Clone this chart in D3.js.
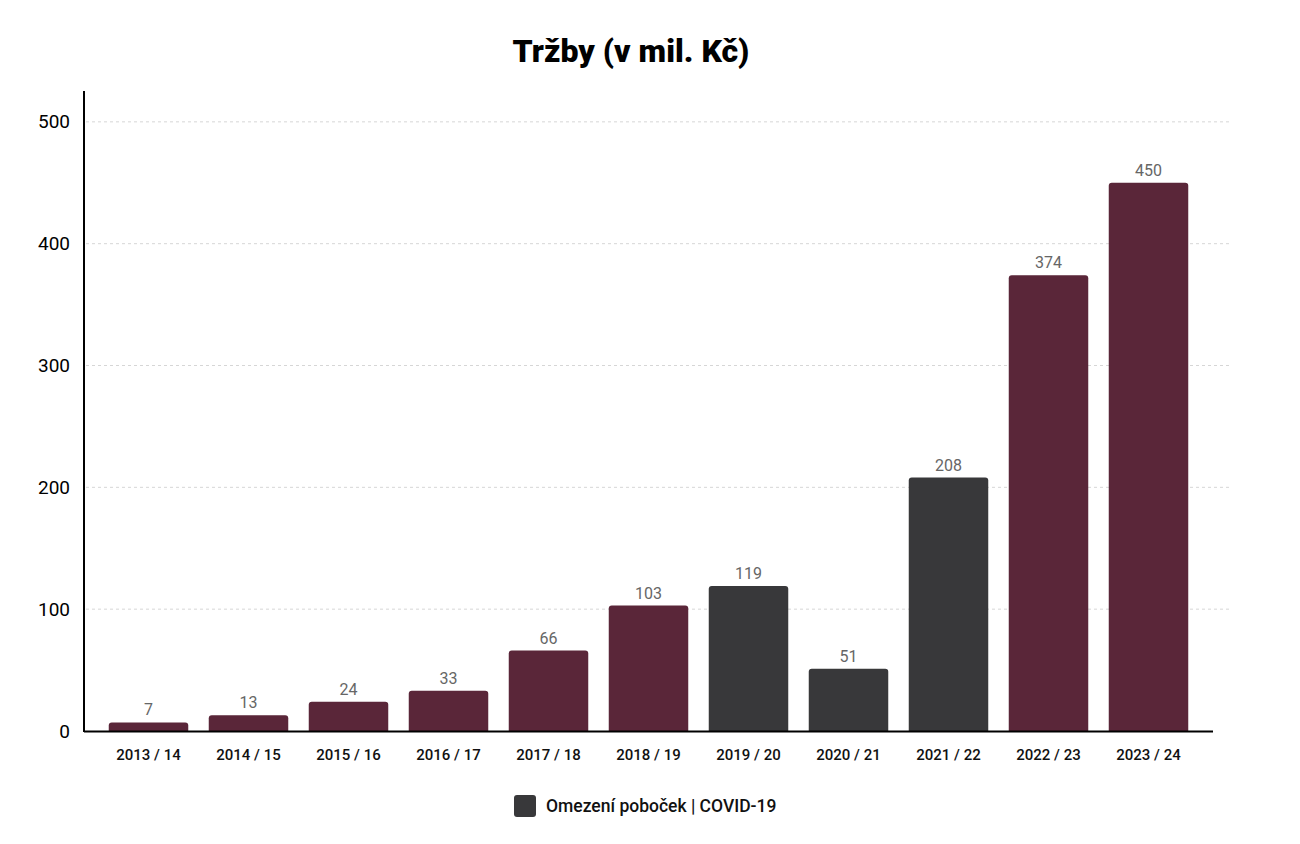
<!DOCTYPE html>
<html>
<head>
<meta charset="utf-8">
<script src="https://cdn.jsdelivr.net/npm/d3@7"></script>
<style>
  html, body { margin: 0; padding: 0; background: #fff; }
  svg { display: block; font-family: Roboto, "Noto Sans", sans-serif; }
</style>
</head>
<body>
<div id="chart"></div>
<script>
// Tržby po letech, tmavé sloupce = omezení poboček (COVID-19)
var years = ['2013 / 14', '2014 / 15', '2015 / 16', '2016 / 17', '2017 / 18', '2018 / 19',
             '2019 / 20', '2020 / 21', '2021 / 22', '2022 / 23', '2023 / 24'];
var revenue = [7, 13, 24, 33, 66, 103, 119, 51, 208, 374, 450];
var covid = [false, false, false, false, false, false, true, true, true, false, false];
var yTicks = [0, 100, 200, 300, 400, 500];
var legendLabel = 'Omezení poboček | COVID-19';

var width = 1300, height = 844;
var colMain = '#5a2639', colCovid = '#38383a';

var svg = d3.select('#chart').append('svg')
  .attr('width', width)
  .attr('height', height);

svg.append('text')
  .attr('x', 631)
  .attr('y', 62)
  .attr('text-anchor', 'middle')
  .attr('font-size', '32px')
  .attr('font-weight', 900)
  .attr('fill', '#000')
  .text('Tržby (v mil. Kč)');

var x = d3.scaleBand()
  .domain(years)
  .range([98.5, 1198.5])
  .paddingInner(0.205)
  .paddingOuter(0.1025);

var y = d3.scaleLinear()
  .domain([0, 524.5])
  .range([731, 92]);

// mřížka
svg.append('g')
  .selectAll('line')
  .data(yTicks.filter(function (d) { return d > 0; }))
  .join('line')
    .attr('x1', 86)
    .attr('x2', 1230)
    .attr('y1', function (d) { return y(d); })
    .attr('y2', function (d) { return y(d); })
    .attr('stroke', '#d6d6d6')
    .attr('stroke-width', 1)
    .attr('stroke-dasharray', '3,3');

// popisky osy Y
var yAxis = svg.append('g')
  .attr('transform', 'translate(84,0)')
  .call(d3.axisLeft(y).tickValues(yTicks).tickSize(0).tickPadding(14));
yAxis.select('.domain').remove();
yAxis.selectAll('text')
  .attr('font-size', '19px')
  .attr('font-family', 'Roboto, sans-serif')
  .attr('fill', '#000');

// sloupce se zaoblenými horními rohy
function barPath(d, i) {
  var x0 = x(years[i]), w = x.bandwidth();
  var y0 = y(d), y1 = y(0), r = Math.min(3, (y1 - y0) / 2);
  return 'M' + x0 + ',' + y1 +
    'V' + (y0 + r) +
    'Q' + x0 + ',' + y0 + ' ' + (x0 + r) + ',' + y0 +
    'H' + (x0 + w - r) +
    'Q' + (x0 + w) + ',' + y0 + ' ' + (x0 + w) + ',' + (y0 + r) +
    'V' + y1 + 'Z';
}

svg.append('g')
  .selectAll('path')
  .data(revenue)
  .join('path')
    .attr('d', barPath)
    .attr('fill', function (d, i) { return covid[i] ? colCovid : colMain; });

svg.append('g')
  .selectAll('text')
  .data(revenue)
  .join('text')
    .attr('x', function (d, i) { return x(years[i]) + x.bandwidth() / 2; })
    .attr('y', function (d) { return y(d) - 7; })
    .attr('text-anchor', 'middle')
    .attr('font-size', '16px')
    .attr('fill', '#666')
    .text(function (d) { return d; });

// osy
var xAxis = svg.append('g')
  .attr('transform', 'translate(0,731)')
  .call(d3.axisBottom(x).tickSize(0).tickPadding(18));
xAxis.select('.domain').remove();
xAxis.selectAll('text')
  .attr('font-size', '15px')
  .attr('font-weight', 500)
  .attr('font-family', 'Roboto, sans-serif')
  .attr('fill', '#111');

svg.append('line')
  .attr('x1', 84).attr('x2', 1213)
  .attr('y1', 731.5).attr('y2', 731.5)
  .attr('stroke', '#000').attr('stroke-width', 2);

svg.append('line')
  .attr('x1', 84).attr('x2', 84)
  .attr('y1', 91).attr('y2', 732)
  .attr('stroke', '#000').attr('stroke-width', 2);

// legenda
var legend = svg.append('g').attr('transform', 'translate(514,795)');
legend.append('rect')
  .attr('width', 22).attr('height', 22)
  .attr('rx', 3)
  .attr('fill', colCovid);
legend.append('text')
  .attr('x', 32)
  .attr('y', 17)
  .attr('font-size', '17.5px')
  .attr('font-weight', 500)
  .attr('fill', '#111')
  .text(legendLabel);
</script>
</body>
</html>
